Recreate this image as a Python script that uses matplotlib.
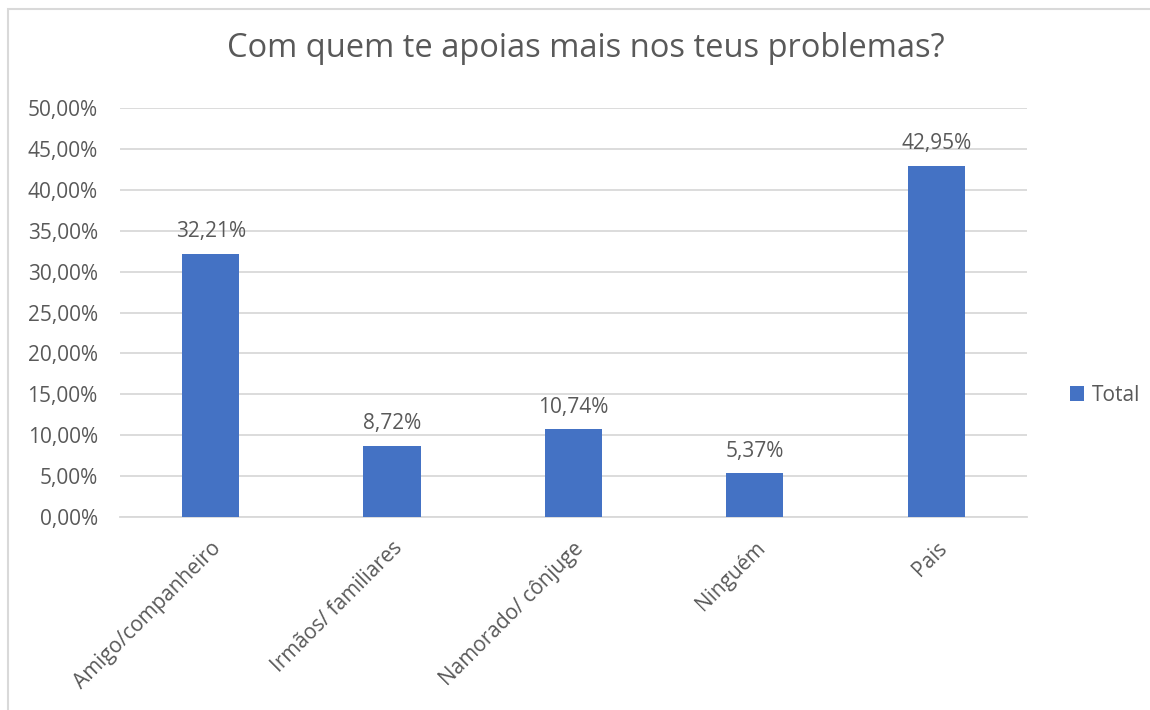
import matplotlib.pyplot as plt
from matplotlib.patches import Rectangle
from matplotlib.ticker import FuncFormatter

plt.rcParams['font.family'] = ['Open Sans', 'DejaVu Sans']

# Data
categories = ["Amigo/companheiro", "Irmãos/ familiares", "Namorado/ cônjuge", "Ninguém", "Pais"]
values = [32.21, 8.72, 10.74, 5.37, 42.95]
yticks = [0, 5, 10, 15, 20, 25, 30, 35, 40, 45, 50]

bar_color = "#4472C4"
text_color = "#595959"
grid_color = "#D9D9D9"

fig = plt.figure(figsize=(11.5, 7.1), dpi=100)
ax = fig.add_axes([0.1043, 0.2718, 0.7887, 0.5761])

x = range(len(categories))
bars = ax.bar(x, values, width=0.315, color=bar_color, zorder=3, label="Total")

for b, v in zip(bars, values):
    ax.text(b.get_x() + b.get_width() / 2, v + 1.4, f"{v:.2f}%".replace(".", ","),
            ha="center", va="bottom", fontsize=15, color=text_color)

ax.set_xlim(-0.5, len(categories) - 0.5)
ax.set_ylim(0, 50)
ax.set_yticks(yticks)
ax.yaxis.set_major_formatter(FuncFormatter(lambda v, p: f"{v:.2f}%".replace(".", ",")))
ax.yaxis.grid(True, color=grid_color, linewidth=1.3, zorder=0)
ax.set_xticks(list(x))
ax.set_xticklabels(categories, rotation=45, ha="right", rotation_mode="anchor")

ax.tick_params(axis="both", length=0, labelsize=15, labelcolor=text_color)
ax.tick_params(axis="y", pad=16)
ax.tick_params(axis="x", pad=15)
for side in ["top", "right", "left"]:
    ax.spines[side].set_visible(False)
ax.spines["bottom"].set_color(grid_color)
ax.spines["bottom"].set_linewidth(1.3)

fig.text(0.509, 0.932, "Com quem te apoias mais nos teus problemas?",
         ha="center", va="center", fontsize=23.5, color=text_color)

leg = fig.legend(handles=[bars], labels=["Total"], loc="center left",
                 bbox_to_anchor=(0.914, 0.443), frameon=False, fontsize=15,
                 handlelength=0.7, handleheight=0.7, handletextpad=0.35)
for t in leg.get_texts():
    t.set_color(text_color)

# chart border (top and left visible)
fig.add_artist(Rectangle((0.007, -0.05), 1.1, 1.037, transform=fig.transFigure,
                         fill=False, edgecolor=grid_color, linewidth=1.5))

plt.savefig("out.png", dpi=100)
